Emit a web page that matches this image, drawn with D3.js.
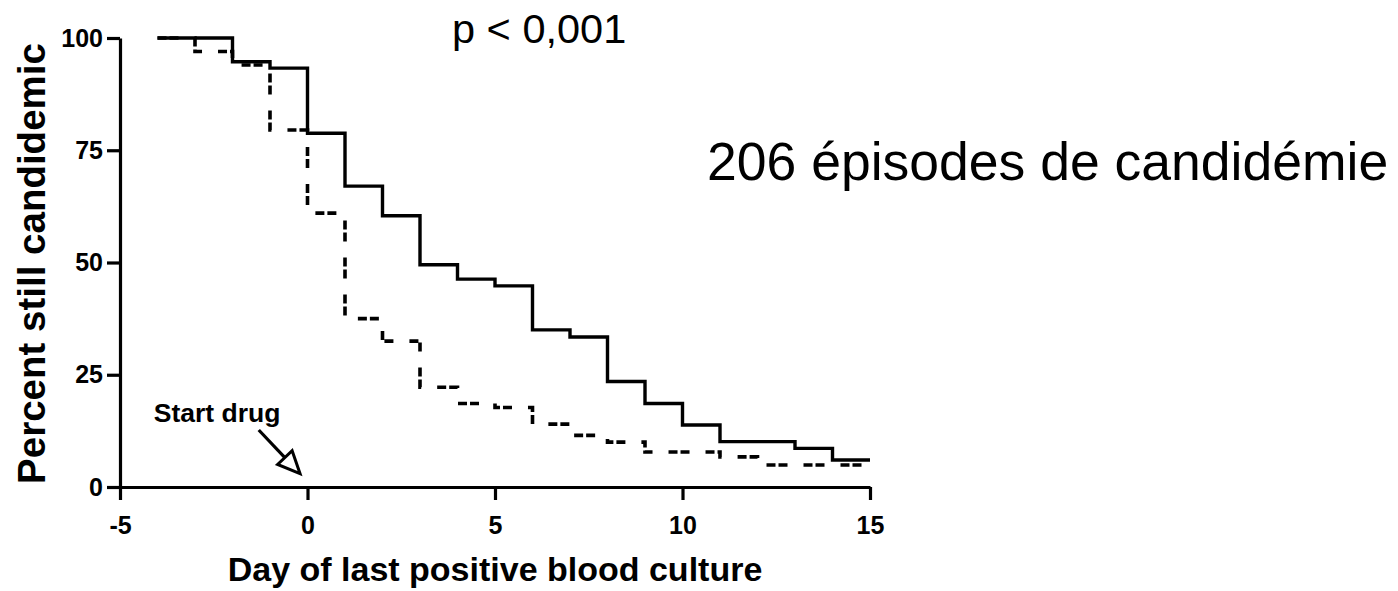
<!DOCTYPE html>
<html>
<head>
<meta charset="utf-8">
<script src="https://cdn.jsdelivr.net/npm/d3@7"></script>
<style>
  body { margin: 0; background: #fff; }
  svg { display: block; font-family: "Liberation Sans", Arial, Helvetica, sans-serif; }
</style>
</head>
<body>
<svg id="chart" width="1398" height="591"></svg>
<script>
// solid curve (step after each day)
var solidDays = [-4, -2, -1, 0, 1, 2, 3, 4, 5, 6, 7, 8, 9, 10, 11, 13, 14, 15];
var solidPct  = [100, 94.7, 93.3, 78.8, 67, 60.4, 49.5, 46.3, 44.8, 35, 33.4, 23.5, 18.6, 13.8, 10.1, 8.6, 6, 6];

// dashed curve
var dashedDays = [-4, -3, -2, -1, 0, 1, 2, 3, 4, 5, 6, 7, 8, 9, 11, 12, 15];
var dashedPct  = [100, 97, 94, 79.5, 61, 37.5, 32.5, 22.2, 18.6, 17.7, 14, 11.5, 10, 7.8, 6.7, 4.9, 4.9];

var xTicks = [-5, 0, 5, 10, 15];
var yTicks = [0, 25, 50, 75, 100];

var svg = d3.select("#chart");

var x = d3.scaleLinear().domain([-5, 15]).range([120, 870]);
var y = d3.scaleLinear().domain([0, 100]).range([487, 38]);

// axes
var gx = svg.append("g")
  .attr("transform", "translate(0," + y(0) + ")")
  .call(d3.axisBottom(x).tickValues(xTicks).tickSize(13).tickSizeOuter(0).tickPadding(16).tickFormat(d3.format("d")));

var gy = svg.append("g")
  .attr("transform", "translate(" + x(-5) + ",0)")
  .call(d3.axisLeft(y).tickValues(yTicks).tickSize(13).tickSizeOuter(0).tickPadding(4));

[gx, gy].forEach(function(g) {
  g.selectAll("path, line").attr("stroke", "#000").attr("stroke-width", 3.2);
  g.selectAll("text")
    .attr("fill", "#000")
    .style("font-size", "25px")
    .style("font-weight", "bold")
    .style("font-family", "'Liberation Sans', Arial, sans-serif");
});
gx.selectAll("text").text(function(d) { return d < 0 ? "-" + Math.abs(d) : d; });

// curves
var line = d3.line()
  .x(function(d) { return x(d[0]); })
  .y(function(d) { return y(d[1]); })
  .curve(d3.curveStepAfter);

svg.append("path")
  .datum(solidDays.map(function(d, i) { return [d, solidPct[i]]; }))
  .attr("d", line)
  .attr("fill", "none")
  .attr("stroke", "#000")
  .attr("stroke-width", 3.4);

svg.append("path")
  .datum(dashedDays.map(function(d, i) { return [d, dashedPct[i]]; }))
  .attr("d", line)
  .attr("fill", "none")
  .attr("stroke", "#000")
  .attr("stroke-width", 3.6)
  .attr("stroke-dasharray", "9,3,9,16");

// axis titles
svg.append("text")
  .attr("x", (x(-5) + x(15)) / 2)
  .attr("y", 581)
  .attr("text-anchor", "middle")
  .style("font-size", "34px")
  .style("font-weight", "bold")
  .text("Day of last positive blood culture");

svg.append("text")
  .attr("transform", "translate(45," + ((y(0) + y(100)) / 2 + 1) + ") rotate(-90)")
  .attr("text-anchor", "middle")
  .style("font-size", "38.5px")
  .style("font-weight", "bold")
  .text("Percent still candidemic");

// start drug annotation
var arrowFrom = [-1.3, 12.7], arrowTo = [-0.2, 3];
svg.append("text")
  .attr("x", x(-4.1))
  .attr("y", y(14.4))
  .style("font-size", "26.5px")
  .style("font-weight", "bold")
  .text("Start drug");

var ax0 = x(arrowFrom[0]), ay0 = y(arrowFrom[1]);
var ax1 = x(arrowTo[0]), ay1 = y(arrowTo[1]);
var ang = Math.atan2(ay1 - ay0, ax1 - ax0);
var headLen = 22, headW = 10;
var bx = ax1 - headLen * Math.cos(ang), by = ay1 - headLen * Math.sin(ang);
svg.append("line")
  .attr("x1", ax0).attr("y1", ay0)
  .attr("x2", bx).attr("y2", by)
  .attr("stroke", "#000").attr("stroke-width", 3.2);
svg.append("polygon")
  .attr("points", [
    [ax1, ay1],
    [bx + headW * Math.sin(ang), by - headW * Math.cos(ang)],
    [bx - headW * Math.sin(ang), by + headW * Math.cos(ang)]
  ].map(function(p) { return p.join(","); }).join(" "))
  .attr("fill", "#fff")
  .attr("stroke", "#000")
  .attr("stroke-width", 3);

// annotations
svg.append("text")
  .attr("x", 452)
  .attr("y", 43)
  .style("font-size", "41.5px")
  .text("p < 0,001");

svg.append("text")
  .attr("x", 707)
  .attr("y", 180)
  .style("font-size", "53.5px")
  .text("206 épisodes de candidémie");
</script>
</body>
</html>
